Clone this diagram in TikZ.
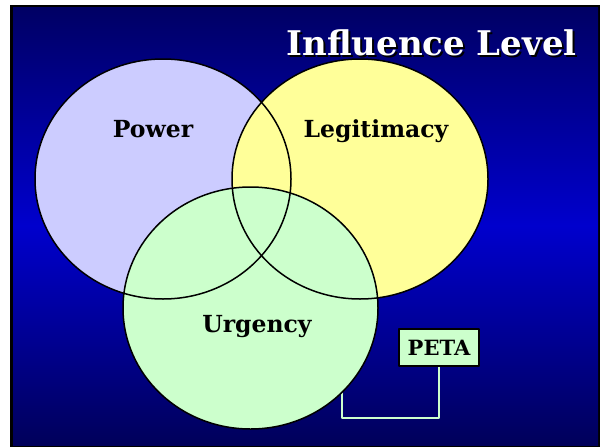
\documentclass[tikz,border=0pt]{standalone}
\usepackage{fontspec}
\setmainfont{DejaVu Serif}
\definecolor{bgtop}{RGB}{0,0,100}
\definecolor{bgmid}{RGB}{0,0,205}
\definecolor{bgbot}{RGB}{0,0,90}
\definecolor{powerc}{RGB}{204,204,255}
\definecolor{legitc}{RGB}{255,255,153}
\definecolor{urgc}{RGB}{204,255,204}
\begin{document}
\begin{tikzpicture}[x=1pt,y=-1pt,line join=round,
  outline/.style={draw=black,line width=1.5pt},
  lbl/.style={font=\bfseries\fontsize{23.5}{23.5}\selectfont,text=black,inner sep=0pt,anchor=base},
  conn/.style={draw=urgc,line width=2pt},
  tagbox/.style={draw=black,line width=1.5pt,fill=urgc,minimum width=80pt,minimum height=37pt,inner sep=0pt,font=\bfseries\fontsize{21}{21}\selectfont}]
\useasboundingbox (0,0) rectangle (602,447);
\fill[white] (0,0) rectangle (602,447);
\fill[black] (10,5) rectangle (600,447);
\begin{scope}[y=1pt]
\shade[top color=bgtop,bottom color=bgbot,middle color=bgmid] (13,-445) rectangle (598,-7);
\end{scope}
% title with shadow
\node[font=\bfseries\fontsize{34}{34}\selectfont,text=white,inner sep=0pt,anchor=base east] (title) at (577,55)
  {\makebox[0pt][l]{\hspace{2pt}\raisebox{-2pt}{\textcolor{black}{Influence Level}}}Influence Level};
% connector
\node[tagbox] (peta) at (439,347.5) {PETA};
\coordinate (cend) at (342,392);
\coordinate (bend) at (342,418);
\draw[conn] (peta.south) |- (bend) -- (cend);
% fills
\fill[powerc] (163,179) ellipse [x radius=128,y radius=120];
\fill[legitc] (360,179) ellipse [x radius=128,y radius=120];
\fill[urgc] (250.5,308) ellipse [x radius=127.5,y radius=121];
% outlines
\draw[outline] (163,179) ellipse [x radius=128,y radius=120];
\draw[outline] (360,179) ellipse [x radius=128,y radius=120];
\draw[outline] (250.5,308) ellipse [x radius=127.5,y radius=121];
% labels
\node[lbl] (power) at (153,137) {Power};
\node[lbl] (legit) at (376,137) {Legitimacy};
\node[lbl] (urg) at (257,332) {Urgency};
\end{tikzpicture}
\end{document}
